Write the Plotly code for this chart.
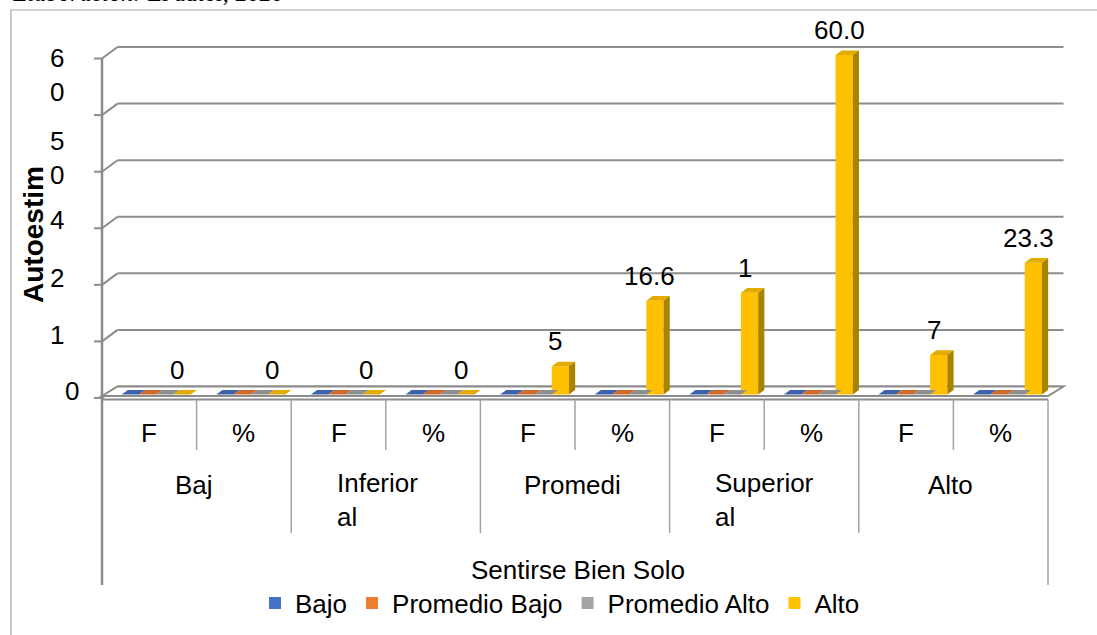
import plotly.graph_objects as go

# ---- data -------------------------------------------------------------
categories = ["F", "%", "F", "%", "F", "%", "F", "%", "F", "%"]
group_labels = ["Baj", "Inferior\nal", "Promedi", "Superior\nal", "Alto"]
axis_title_x = "Sentirse Bien Solo"
axis_title_y = "Autoestim"
series_names = ["Bajo", "Promedio Bajo", "Promedio Alto", "Alto"]
bajo = [0, 0, 0, 0, 0, 0, 0, 0, 0, 0]
promedio_bajo = [0, 0, 0, 0, 0, 0, 0, 0, 0, 0]
promedio_alto = [0, 0, 0, 0, 0, 0, 0, 0, 0, 0]
alto = [0, 0, 0, 0, 5, 16.6, 18, 60.0, 7, 23.3]
alto_labels = ["0", "0", "0", "0", "5", "16.6", "1", "60.0", "7", "23.3"]
grid_values = [0, 10, 20, 30, 40, 50, 60]
y_tick_text = ["0", "1", "2", "4", "5\n0", "6\n0"]

# ---- geometry ---------------------------------------------------------
W, H = 1097, 635
X0, CAT = 102.0, 94.6      # front-left floor corner (px), px per category
Y0, UNIT = 398.0, 5.658    # front baseline (px), px per value unit
FONT = "Liberation Sans, Arial, sans-serif"
GRID = "#8C8C8C"
TABLE = "#A3A3A3"


def xd(px):
    return (px - X0) / CAT - 0.5


def yd(py):
    return (Y0 - py) / UNIT


DEPTH_X = 15.5 / CAT       # full floor depth, as data offsets
DEPTH_Y = 11.5 / UNIT
BAR_D0, BAR_D = 0.3, 0.4   # bar front depth and bar thickness (fractions of floor depth)
CL_START, BAR_W = 0.159, 0.182

front_cols = ["#4472C4", "#ED7D31", "#A5A5A5", "#FFC000"]
top_cols = ["#3B63AB", "#CF6A2B", "#8E8E8E", "#E3AB00"]
side_cols = ["#2F5597", "#AE5A21", "#7B7B7B", "#A88300"]

fig = go.Figure()
shapes = []
annotations = []


def line(x0, y0, x1, y1, color=GRID, width=2.0, layer="below"):
    shapes.append(dict(type="line", xref="x", yref="y", x0=x0, y0=y0, x1=x1, y1=y1,
                       line=dict(color=color, width=width), layer=layer))


def text(x, y, s, size=26, bold=False, xanchor="center", angle=0, align="center"):
    s = s.replace("\n", "<br>")
    annotations.append(dict(x=x, y=y, xref="x", yref="y", text=("<b>%s</b>" % s) if bold else s,
                            showarrow=False, xanchor=xanchor, yanchor="middle", textangle=angle,
                            align=align, font=dict(family=FONT, size=size, color="#000000")))


n = len(categories)
x_left, x_right = -0.5, n - 0.5

# back wall gridlines, left wall diagonals and front ticks
for v in grid_values:
    line(x_left + DEPTH_X, v + DEPTH_Y, x_right + DEPTH_X, v + DEPTH_Y)
    line(x_left, v, x_left + DEPTH_X, v + DEPTH_Y)
    line(xd(94), v, x_left, v)

# floor slab
shapes.append(dict(type="path", xref="x", yref="y", layer="below",
                   path=f"M{x_left},{yd(396)} L{x_right},{yd(396)} L{x_right + DEPTH_X},{DEPTH_Y} "
                        f"L{x_left + DEPTH_X},{DEPTH_Y} Z",
                   fillcolor="#FFFFFF", line=dict(color=GRID, width=2)))
line(x_left, yd(399.5), x_right, yd(399.5), width=2)

# value axis line (runs down through the category table)
line(x_left, grid_values[-1], x_left, yd(585), width=2.5)

# category table
line(x_right, yd(399.5), x_right, yd(585), color=TABLE, width=1.5)
for k in range(1, n):
    bottom = 533 if k % 2 == 0 else 450
    line(k - 0.5, yd(399.5), k - 0.5, yd(bottom), color=TABLE, width=1.5)

for i, c in enumerate(categories):
    text(i, yd(433), c)

for g, lab in enumerate(group_labels):
    cx = 2 * g + 0.5
    if "\n" not in lab:
        text(cx - 3 / CAT, yd(485), lab)
    else:
        text(cx - 51 / CAT, yd(500), lab, xanchor="left", align="left")

text(xd(578), yd(570), axis_title_x)
text(xd(33), yd(235), axis_title_y, size=28, bold=True, angle=-90)

# value axis labels (wrapped the way they are displayed)
label_centers = [391, 335, 278, 220, 158, 75]
for s, cy in zip(y_tick_text, label_centers):
    cx = 71.5 if s == "0" and cy > 380 else 57
    text(xd(cx), yd(cy), s)

# columns
series = [bajo, promedio_bajo, promedio_alto, alto]
base = BAR_D0 * DEPTH_Y
ddx, ddy = BAR_D * DEPTH_X, BAR_D * DEPTH_Y
for j, (name, vals) in enumerate(zip(series_names, series)):
    off = -0.5 + CL_START + j * BAR_W + BAR_D0 * DEPTH_X
    fig.add_trace(go.Bar(x=list(range(n)), y=vals, base=[base] * n, width=BAR_W, offset=off,
                         name=name, marker=dict(color=front_cols[j], line=dict(width=0)),
                         hovertemplate="%{y}<extra>" + name + "</extra>"))
    for i, v in enumerate(vals):
        xl = i + off
        xr = xl + BAR_W
        t = base + v
        shapes.append(dict(type="path", xref="x", yref="y", layer="above",
                           path=f"M{xl},{t} L{xr},{t} L{xr + ddx},{t + ddy} L{xl + ddx},{t + ddy} Z",
                           fillcolor=top_cols[j], line=dict(width=0)))
        if v > 0:
            shapes.append(dict(type="path", xref="x", yref="y", layer="above",
                               path=f"M{xr},{base} L{xr + ddx},{base + ddy} L{xr + ddx},{t + ddy} L{xr},{t} Z",
                               fillcolor=side_cols[j], line=dict(width=0)))
        if j == len(series) - 1:
            text(xl + BAR_W / 2 - 5 / CAT, t + 25 / UNIT, alto_labels[i])

# chart area border and source note
shapes.append(dict(type="rect", xref="paper", yref="paper", x0=11 / W, x1=1.2, y0=-0.2, y1=1 - 10 / H,
                   line=dict(color="#A6A6A6", width=1.2), fillcolor="rgba(0,0,0,0)", layer="below"))
annotations.append(dict(x=10 / W, y=1 + 7 / H, xref="paper", yref="paper", xanchor="left", yanchor="middle",
                        showarrow=False, text="<i>Elaboración:</i> El autor, 2020",
                        font=dict(family="Liberation Serif, Times New Roman, serif", size=24, color="#000000")))

fig.update_layout(
    width=W, height=H, margin=dict(l=0, r=0, t=0, b=0),
    paper_bgcolor="#FFFFFF", plot_bgcolor="rgba(0,0,0,0)",
    barmode="overlay", shapes=shapes, annotations=annotations,
    xaxis=dict(range=[xd(0), xd(W)], visible=False, fixedrange=True),
    yaxis=dict(range=[yd(H), yd(0)], visible=False, fixedrange=True),
    showlegend=True,
    legend=dict(orientation="h", x=560 / W, xanchor="center", y=1 - 603 / H, yanchor="middle",
                font=dict(family=FONT, size=26, color="#000000"), itemwidth=30,
                bgcolor="rgba(0,0,0,0)", traceorder="normal"),
)

fig.write_html("out.html")
